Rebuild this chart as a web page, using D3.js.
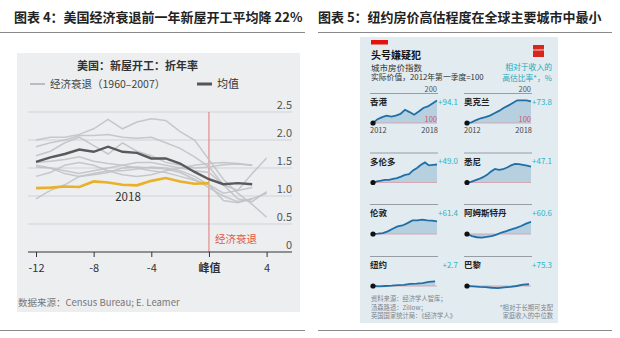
<!DOCTYPE html>
<html>
<head>
<meta charset="utf-8">
<script src="https://cdn.jsdelivr.net/npm/d3@7"></script>
<style>
  html, body { margin: 0; padding: 0; background: #fff; }
  svg { display: block; }
  text { font-family: "Noto Sans CJK SC", "Noto Sans", sans-serif; }
</style>
</head>
<body>
<svg id="chart" width="620" height="338"></svg>
<script>
// ---- left chart: housing starts around recessions ----
const quarters = [-12, -11, -10, -9, -8, -7, -6, -5, -4, -3, -2, -1, 0, 1, 2, 3, 4];
const meanStarts = [1.61, 1.69, 1.75, 1.83, 1.79, 1.88, 1.79, 1.77, 1.67, 1.67, 1.58, 1.43, 1.30, 1.21, 1.23, 1.21];
const starts2018 = [1.14, 1.15, 1.17, 1.16, 1.26, 1.24, 1.20, 1.19, 1.27, 1.32, 1.26, 1.22, 1.23];
const recessionStarts = [
  [2.00, 2.05, 2.05, 2.10, 2.20, 2.37, 2.20, 2.32, 2.38, 2.35, 2.15, 2.00, 1.65, 1.30, 1.05, 0.85, 0.62],
  [1.88, 1.95, 2.00, 2.08, 2.08, 2.10, 2.05, 2.03, 2.05, 1.95, 1.85, 1.70, 1.52, 1.20, 0.95, 0.90, 1.08],
  [1.72, 1.80, 1.95, 2.05, 1.90, 1.75, 1.95, 1.80, 1.72, 1.60, 1.55, 1.50, 1.52, 1.56, 1.57, 1.55],
  [1.52, 1.50, 1.45, 1.40, 1.45, 1.50, 1.55, 1.60, 1.60, 1.55, 1.50, 1.45, 1.42, 1.20, 1.10, 1.40, 1.68],
  [0.95, 1.10, 1.20, 1.35, 1.40, 1.45, 1.45, 1.48, 1.52, 1.50, 1.45, 1.35, 1.20, 0.92, 0.88, 0.95, 1.05],
  [1.55, 1.50, 1.40, 1.35, 1.38, 1.42, 1.50, 1.52, 1.50, 1.48, 1.42, 1.30, 1.15, 1.00, 0.90, 0.95],
  [1.60, 1.62, 1.65, 1.70, 1.62, 1.58, 1.55, 1.50, 1.45, 1.42, 1.35, 1.28, 1.20, 1.05, 1.10, 1.15],
  [1.35, 1.42, 1.55, 1.60, 1.55, 1.45, 1.38, 1.35, 1.38, 1.45, 1.50, 1.55, 1.58, 1.60, 1.58, 1.55]
];
const yTicks = [0, 0.5, 1.0, 1.5, 2.0, 2.5];
const xTicks = [-12, -8, -4, 0, 4];

// ---- right chart: city house price indices ----
const cities = ["香港", "奥克兰", "多伦多", "悉尼", "伦敦", "阿姆斯特丹", "纽约", "巴黎"];
const overvaluation = [94.1, 73.8, 49.0, 47.1, 61.4, 60.6, 2.7, 75.3];
const hongKong = [100, 113, 120, 125, 122, 125, 131, 145, 137, 128, 139, 151, 156, 166, 176];
const auckland = [100, 102, 110, 116, 120, 125, 133, 141, 151, 159, 168, 177, 177, 177, 173];
const toronto = [100, 104, 106, 109, 109, 112, 115, 120, 126, 128, 141, 149, 160, 168, 158, 160, 161];
const sydney = [100, 102, 107, 112, 118, 126, 137, 146, 143, 145, 151, 158, 163, 162, 160, 157, 154];
const london = [100, 101, 103, 109, 118, 126, 129, 137, 146, 146, 149, 146, 145, 143];
const amsterdam = [100, 93, 89, 88, 90, 93, 98, 105, 110, 116, 121, 127, 135, 141];
const newYork = [100, 99, 100, 101, 103, 104, 107, 108, 110, 114, 116];
const paris = [100, 99, 97, 96, 94, 93, 95, 97, 100, 105, 106];
const priceIndex = [hongKong, auckland, toronto, sydney, london, amsterdam, newYork, paris];

const svg = d3.select("#chart");

// headings and rules
svg.append("text").attr("x", 14).attr("y", 22)
  .attr("font-size", 13).attr("font-weight", 700).attr("fill", "#222")
  .text("图表 4：美国经济衰退前一年新屋开工平均降 22%");
svg.append("text").attr("x", 318).attr("y", 22)
  .attr("font-size", 13).attr("font-weight", 700).attr("fill", "#222")
  .text("图表 5：纽约房价高估程度在全球主要城市中最小");
[[0, 305], [318, 612]].forEach(([a, b]) => {
  svg.append("line").attr("x1", a).attr("x2", b).attr("y1", 32.5).attr("y2", 32.5)
    .attr("stroke", "#8a8a8a").attr("stroke-width", 1);
  svg.append("line").attr("x1", a).attr("x2", b).attr("y1", 330.5).attr("y2", 330.5)
    .attr("stroke", "#8a8a8a").attr("stroke-width", 1);
});

// ================= left =================
const left = svg.append("g");
left.append("rect").attr("x", 17).attr("y", 53).attr("width", 283).attr("height", 259)
  .attr("fill", "#edeef0");

const x = d3.scaleLinear().domain([-12, 4]).range([36, 266.6]);
const y = d3.scaleLinear().domain([0, 2.5]).range([252, 112]);

left.append("text").attr("x", 77).attr("y", 70)
  .attr("font-size", 11).attr("font-weight", 700).attr("fill", "#333")
  .text("美国：新屋开工：折年率");

// legend
left.append("line").attr("x1", 30).attr("x2", 45).attr("y1", 84).attr("y2", 84)
  .attr("stroke", "#b9bdc1").attr("stroke-width", 2);
left.append("text").attr("x", 50).attr("y", 88)
  .attr("font-size", 10.5).attr("fill", "#444").text("经济衰退（1960–2007）");
left.append("line").attr("x1", 197).attr("x2", 212).attr("y1", 84).attr("y2", 84)
  .attr("stroke", "#555").attr("stroke-width", 3);
left.append("text").attr("x", 217).attr("y", 88)
  .attr("font-size", 11).attr("fill", "#333").text("均值");

// grid + y labels
left.selectAll("line.grid").data(yTicks.filter(d => d > 0)).enter().append("line")
  .attr("class", "grid")
  .attr("x1", 28).attr("x2", 292)
  .attr("y1", d => y(d)).attr("y2", d => y(d))
  .attr("stroke", "#cfd2d6").attr("stroke-width", 1);
left.selectAll("text.ylab").data(yTicks).enter().append("text")
  .attr("class", "ylab")
  .attr("x", 292).attr("y", d => y(d) - 3.5)
  .attr("text-anchor", "end")
  .attr("font-family", "Roboto, sans-serif")
  .attr("font-size", 11).attr("fill", "#555")
  .text(d => d === 0 ? "0" : d.toFixed(1));

// recession marker
left.append("line").attr("x1", x(0)).attr("x2", x(0)).attr("y1", y(2.5)).attr("y2", y(0))
  .attr("stroke", "#e2787a").attr("stroke-width", 1);
left.append("text").attr("x", x(0) + 6).attr("y", 243)
  .attr("font-size", 10.5).attr("fill", "#e4583f").text("经济衰退");

const line = d3.line()
  .x((d, i) => x(quarters[i]))
  .y(d => y(d));

left.selectAll("path.rec").data(recessionStarts).enter().append("path")
  .attr("class", "rec")
  .attr("d", line)
  .attr("fill", "none")
  .attr("stroke", "#bfc3c7")
  .attr("stroke-width", 1.5)
  .attr("stroke-opacity", 0.9);

left.append("path").datum(starts2018)
  .attr("d", line).attr("fill", "none")
  .attr("stroke", "#e9b12a").attr("stroke-width", 2.6);

left.append("path").datum(meanStarts)
  .attr("d", line).attr("fill", "none")
  .attr("stroke", "#59595b").attr("stroke-width", 2.4);

left.append("text").attr("x", 128).attr("y", 201)
  .attr("text-anchor", "middle")
  .attr("font-family", "Roboto, sans-serif")
  .attr("font-size", 11.5).attr("fill", "#333").text("2018");

// x axis
const xAxis = d3.axisBottom(x)
  .tickValues(xTicks)
  .tickSize(5)
  .tickSizeOuter(0)
  .tickFormat(d => d === 0 ? "峰值" : String(d));
const ax = left.append("g").attr("transform", `translate(0,${y(0)})`).call(xAxis);
ax.select(".domain").remove();
ax.selectAll(".tick line").attr("stroke", "#333");
ax.selectAll(".tick text")
  .attr("dy", "1.05em")
  .attr("font-family", "Roboto, 'Noto Sans CJK SC', sans-serif")
  .attr("font-size", 11).attr("fill", "#333")
  .attr("font-weight", d => d === 0 ? 700 : 400);
left.append("line").attr("x1", 28).attr("x2", 292).attr("y1", y(0)).attr("y2", y(0))
  .attr("stroke", "#333").attr("stroke-width", 1.2);

left.append("text").attr("x", 18).attr("y", 306)
  .attr("font-size", 9.5).attr("fill", "#777")
  .text("数据来源：Census Bureau; E. Leamer");

// ================= right =================
const right = svg.append("g");
right.append("rect").attr("x", 360).attr("y", 37).attr("width", 198).attr("height", 286)
  .attr("fill", "#e2ebf0");
right.append("rect").attr("x", 371).attr("y", 40).attr("width", 17).attr("height", 4.5)
  .attr("fill", "#e3120b");
right.append("text").attr("x", 371).attr("y", 59)
  .attr("font-size", 10).attr("font-weight", 700).attr("fill", "#111").text("头号嫌疑犯");
right.append("text").attr("x", 371).attr("y", 70.5)
  .attr("font-size", 8.5).attr("fill", "#333").text("城市房价指数");
right.append("text").attr("x", 371).attr("y", 80)
  .attr("font-size", 7.8).attr("fill", "#333").text("实际价值，2012年第一季度=100");
right.append("text").attr("x", 552).attr("y", 70).attr("text-anchor", "end")
  .attr("font-size", 7.8).attr("fill", "#27a9bd").text("相对于收入的");
right.append("text").attr("x", 552).attr("y", 80.5).attr("text-anchor", "end")
  .attr("font-size", 7.8).attr("fill", "#27a9bd").text("高估比率*，%");

// small masthead box
right.append("rect").attr("x", 533).attr("y", 45).attr("width", 11).attr("height", 12)
  .attr("fill", "#d7261e");
right.append("text").attr("x", 538.5).attr("y", 51).attr("text-anchor", "middle")
  .attr("font-family", "Liberation Serif, serif")
  .attr("font-size", 2.6).attr("fill", "#fff").text("Economist");

const colX = [373, 467];
const baseY = [123, 182.5, 234, 286];

priceIndex.forEach((series, k) => {
  const col = k % 2, row = Math.floor(k / 2);
  const x0 = colX[col];
  const xs = d3.scaleLinear().domain([0, hongKong.length - 1]).range([x0, x0 + 64]);
  const ys = d3.scaleLinear().domain([100, 200]).range([baseY[row], baseY[row] - 29.5]);
  const g = right.append("g");

  g.append("line").attr("x1", x0 - 3).attr("x2", x0 + 65)
    .attr("y1", ys(200)).attr("y2", ys(200))
    .attr("stroke", "#8e9498").attr("stroke-width", 0.9);

  const xi = (d, i) => xs(i * (hongKong.length - 1) / (series.length - 1) * (series.length > 12 ? 1 : 0.97));
  g.append("path").datum(series)
    .attr("d", d3.area().x(xi).y0(ys(100)).y1(d => ys(d)))
    .attr("fill", "#b7d0e0");
  g.append("line").attr("x1", x0).attr("x2", x0 + 64)
    .attr("y1", ys(100)).attr("y2", ys(100))
    .attr("stroke", "#d7a7b4").attr("stroke-width", 1);
  g.append("path").datum(series)
    .attr("d", d3.line().x(xi).y(d => ys(d)))
    .attr("fill", "none").attr("stroke", "#1f6fa6").attr("stroke-width", 1.8);
  g.append("circle").attr("cx", xs(0)).attr("cy", ys(series[0])).attr("r", 2.6)
    .attr("fill", "#111");

  g.append("text").attr("x", x0 - 3).attr("y", ys(200) + 11.5)
    .attr("font-size", 8.5).attr("font-weight", 700).attr("fill", "#222")
    .text(cities[k]);
  g.append("text").attr("x", x0 + 85).attr("y", ys(200) + 11)
    .attr("text-anchor", "end")
    .attr("font-family", "Roboto, sans-serif")
    .attr("font-size", 8).attr("fill", "#2fb3c3")
    .text("+" + overvaluation[k].toFixed(1));

  if (row === 0) {
    g.append("text").attr("x", x0 + 64).attr("y", ys(200) - 2).attr("text-anchor", "end")
      .attr("font-family", "Liberation Serif, serif")
      .attr("font-size", 7.5).attr("fill", "#555").text("200");
    g.append("text").attr("x", x0 + 64).attr("y", ys(100) - 1.5).attr("text-anchor", "end")
      .attr("font-family", "Liberation Serif, serif")
      .attr("font-size", 7.5).attr("fill", "#d0566a").text("100");
    g.append("text").attr("x", x0 - 3).attr("y", ys(100) + 9.5)
      .attr("font-family", "Liberation Serif, serif")
      .attr("font-size", 7.5).attr("fill", "#444").text("2012");
    g.append("text").attr("x", x0 + 65).attr("y", ys(100) + 9.5).attr("text-anchor", "end")
      .attr("font-family", "Liberation Serif, serif")
      .attr("font-size", 7.5).attr("fill", "#444").text("2018");
  }
});

right.append("text").attr("x", 371).attr("y", 301)
  .attr("font-size", 6.3).attr("fill", "#808489").text("资料来源：经济学人智库；");
right.append("text").attr("x", 371).attr("y", 309.7)
  .attr("font-size", 6.3).attr("fill", "#808489").text("汤森路透：Zillow；");
right.append("text").attr("x", 371).attr("y", 318.4)
  .attr("font-size", 6.3).attr("fill", "#808489").text("英国国家统计局：《经济学人》");
right.append("text").attr("x", 553).attr("y", 309.7).attr("text-anchor", "end")
  .attr("font-size", 6.3).attr("fill", "#808489").text("*相对于长期可支配");
right.append("text").attr("x", 553).attr("y", 318.4).attr("text-anchor", "end")
  .attr("font-size", 6.3).attr("fill", "#808489").text("家庭收入的中位数");
</script>
</body>
</html>
